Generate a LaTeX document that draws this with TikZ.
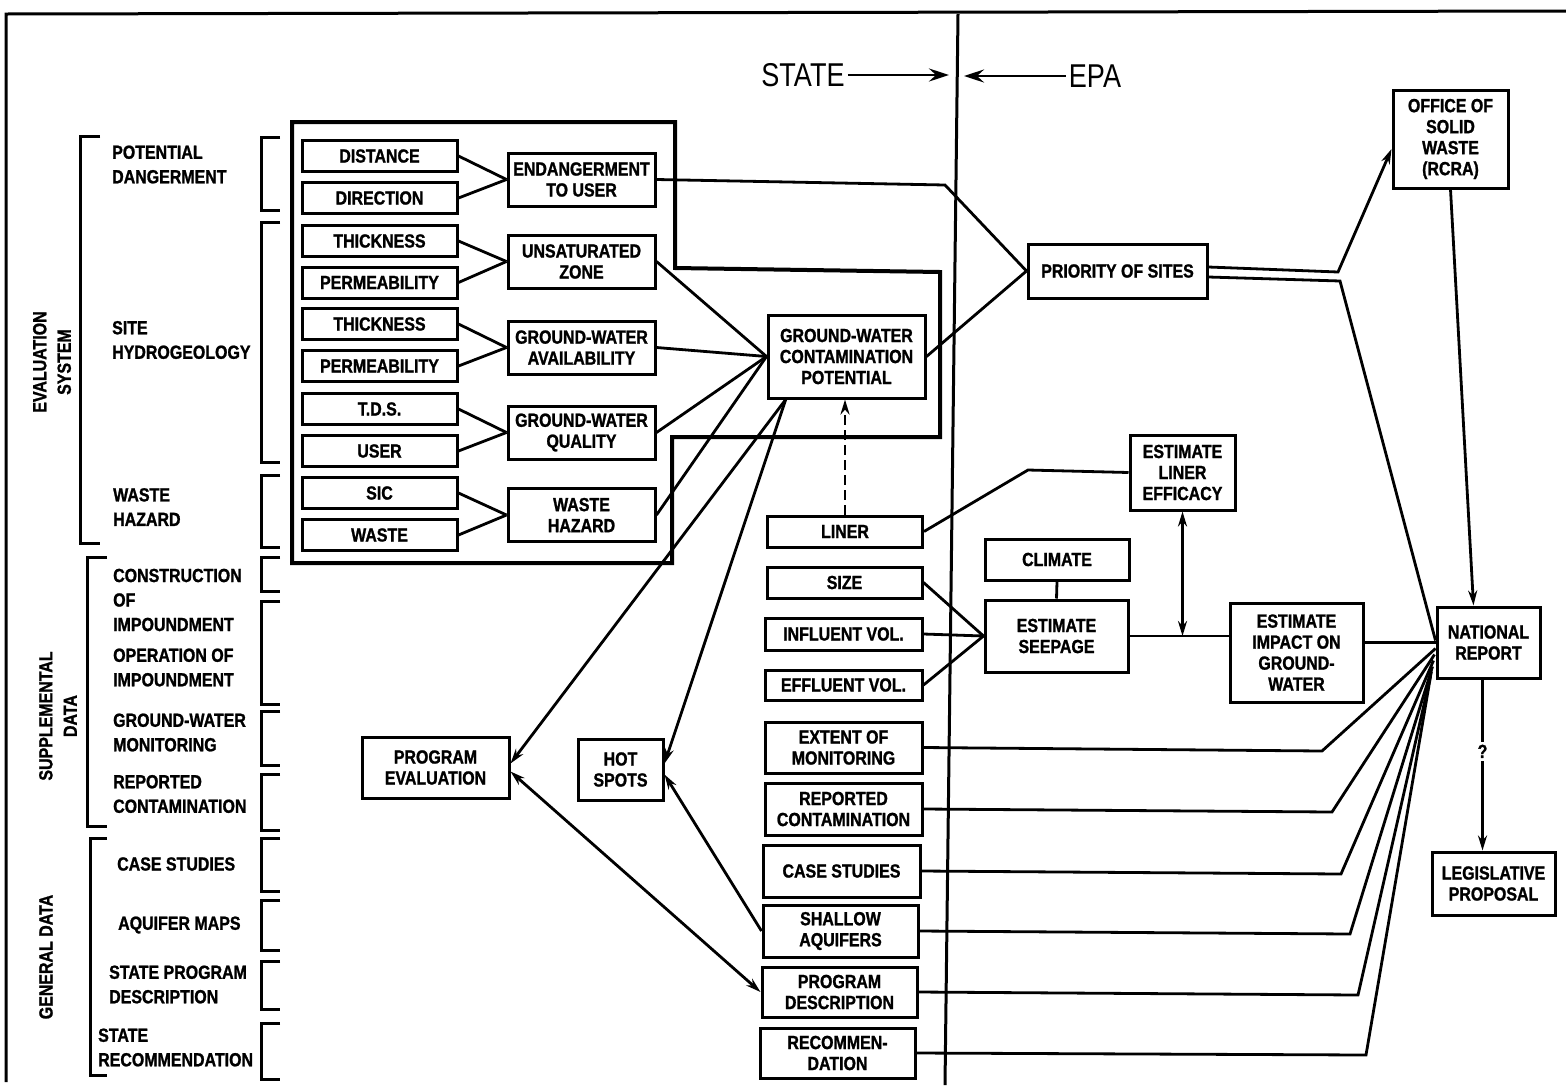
\documentclass[tikz,border=0pt]{standalone}
\usepackage{fontspec}
\newfontfamily\cnd{Liberation Sans}[FakeStretch=0.84, BoldFeatures={FakeBold=1.2}]
\newfontfamily\hdr{Liberation Sans}[FakeStretch=0.82]
\usetikzlibrary{arrows.meta,calc}
\newcommand{\boxfont}{\cnd\bfseries\fontsize{19}{21}\selectfont}
\newcommand{\labfont}{\cnd\bfseries\fontsize{19}{24.5}\selectfont}
\newcommand{\hdrfont}{\hdr\fontsize{33}{36}\selectfont}
\tikzset{
  bx/.style={draw, line width=3pt, inner sep=0pt, align=center, font=\boxfont},
  c1/.style={bx, minimum width=155pt, minimum height=31pt},
  c2/.style={bx, minimum width=147pt, minimum height=53pt},
  lbl/.style={align=left, anchor=west, inner sep=0pt, font=\labfont},
  vlbl/.style={align=center, rotate=90, inner sep=0pt, font=\labfont},
  cn/.style={line width=2.8pt},
  brk/.style={line width=3pt},
  arr/.style={cn, -{Stealth[length=15pt,width=9pt]}},
  darr/.style={cn, {Stealth[length=15pt,width=9pt]}-{Stealth[length=15pt,width=9pt]}},
  harr/.style={line width=2.8pt, -{Stealth[length=20pt,width=13pt,inset=7pt]}}
}
\begin{document}
\begin{tikzpicture}[x=1pt,y=-1pt]
\useasboundingbox (0,0) rectangle (1566,1085);
\fill[white] (0,0) rectangle (1566,1085);

% frame and divider
\draw[line width=3pt] (6,1082) -- (6,14) -- (1566,11);
\coordinate (dtop) at (958,14);
\coordinate (dbot) at (945,1085);
\draw[line width=3pt] (dtop) -- (dbot);

% header
\node[font=\hdrfont, inner sep=3pt] (state) at (803,75) {STATE};
\node[font=\hdrfont, inner sep=3pt] (epa) at (1095,76) {EPA};
\coordinate (sa) at (949,75);
\coordinate (ea) at (964,76);
\draw[harr] (state.east) -- (sa);
\draw[harr] (epa.west) -- (ea);

% left vertical labels and brackets
\node[vlbl] (evs) at (52,362) {EVALUATION\\SYSTEM};
\node[vlbl] (sup) at (58,716) {SUPPLEMENTAL\\DATA};
\node[vlbl] (gen) at (46,957) {GENERAL DATA};
\draw[brk] (100,136) -- (80,136) -- (80,543) -- (100,543);
\draw[brk] (107,557) -- (87,557) -- (87,826) -- (107,826);
\draw[brk] (107,838) -- (90,838) -- (90,1075) -- (107,1075);

% left labels
\node[lbl] (l1) at (112,164.5) {POTENTIAL\\DANGERMENT};
\node[lbl] (l2) at (112,340) {SITE\\HYDROGEOLOGY};
\node[lbl] (l3) at (113,507) {WASTE\\HAZARD};
\node[lbl] (l4) at (113,600) {CONSTRUCTION\\OF\\IMPOUNDMENT};
\node[lbl] (l5) at (113,667.5) {OPERATION OF\\IMPOUNDMENT};
\node[lbl] (l6) at (113,732.5) {GROUND-WATER\\MONITORING};
\node[lbl] (l7) at (113,794) {REPORTED\\CONTAMINATION};
\node[lbl] (l8) at (117,864) {CASE STUDIES};
\node[lbl] (l9) at (118,925) {AQUIFER MAPS};
\node[lbl] (l10) at (109,984.5) {STATE PROGRAM\\DESCRIPTION};
\node[lbl] (l11) at (98,1047.5) {STATE\\RECOMMENDATION};

% small brackets
\foreach \a/\b in {137/210,222/462,475/547,557/591,601/704,711/765,774/830,838/891,900/950,961/1009,1023/1079}
  \draw[brk] (280,\a) -- (261,\a) -- (261,\b) -- (280,\b);

% enclosure
\draw[line width=4pt] (292,122) -- (675,122) -- (675,268) -- (940,272) -- (940,437) -- (672,437) -- (672,563) -- (292,563) -- cycle;

% column 1
\node[c1] (dist) at (379.5,156) {DISTANCE};
\node[c1] (dir) at (379.5,198) {DIRECTION};
\node[c1] (thk1) at (379.5,241) {THICKNESS};
\node[c1] (perm1) at (379.5,282.5) {PERMEABILITY};
\node[c1] (thk2) at (379.5,324) {THICKNESS};
\node[c1] (perm2) at (379.5,366) {PERMEABILITY};
\node[c1] (tds) at (379.5,409) {T.D.S.};
\node[c1] (user) at (379.5,451) {USER};
\node[c1] (sic) at (379.5,493) {SIC};
\node[c1] (waste) at (379.5,535) {WASTE};

% column 2
\node[c2] (endg) at (581.5,179.5) {ENDANGERMENT\\TO USER};
\node[c2] (unsat) at (581.5,261.5) {UNSATURATED\\ZONE};
\node[c2] (gwa) at (581.5,347.5) {GROUND-WATER\\AVAILABILITY};
\node[c2] (gwq) at (581.5,432.5) {GROUND-WATER\\QUALITY};
\node[c2] (wh) at (581.5,515) {WASTE\\HAZARD};

\foreach \s/\t in {dist/endg,dir/endg,thk1/unsat,perm1/unsat,thk2/gwa,perm2/gwa,tds/gwq,user/gwq,sic/wh,waste/wh}
  \draw[cn] (\s.east) -- (\t.west);

% central boxes
\node[bx, minimum width=157pt, minimum height=83pt] (gwcp) at (846.5,356.5) {GROUND-WATER\\CONTAMINATION\\POTENTIAL};
\node[bx, minimum width=179pt, minimum height=54pt] (prio) at (1117.5,271) {PRIORITY OF SITES};
\node[bx, minimum width=115pt, minimum height=98pt] (office) at (1450.5,139) {OFFICE OF\\SOLID\\WASTE\\(RCRA)};
\node[bx, minimum width=105pt, minimum height=75pt] (lineff) at (1182.5,472.5) {ESTIMATE\\LINER\\EFFICACY};
\node[c1] (liner) at (845,531.5) {LINER};
\node[c1] (size) at (844.5,582.5) {SIZE};
\node[bx, minimum width=157pt, minimum height=32pt] (infl) at (843.5,634) {INFLUENT VOL.};
\node[bx, minimum width=157pt, minimum height=30pt] (effl) at (843.5,685) {EFFLUENT VOL.};
\node[bx, minimum width=144pt, minimum height=41pt] (climate) at (1057,559.5) {CLIMATE};
\node[bx, minimum width=143pt, minimum height=72pt] (seep) at (1056.5,636) {ESTIMATE\\SEEPAGE};
\node[bx, minimum width=133pt, minimum height=99pt] (impact) at (1296.5,652.5) {ESTIMATE\\IMPACT ON\\GROUND-\\WATER};
\node[bx, minimum width=103pt, minimum height=71pt] (natl) at (1488.5,642.5) {NATIONAL\\REPORT};
\node[bx, minimum width=123pt, minimum height=63pt] (legis) at (1493.5,883.5) {LEGISLATIVE\\PROPOSAL};

% lower boxes
\node[bx, minimum width=147pt, minimum height=61pt] (progeval) at (435.5,767.5) {PROGRAM\\EVALUATION};
\node[bx, minimum width=85pt, minimum height=61pt] (hot) at (620.5,769.5) {HOT\\SPOTS};
\node[bx, minimum width=157pt, minimum height=51pt] (extent) at (843.5,747.5) {EXTENT OF\\MONITORING};
\node[bx, minimum width=157pt, minimum height=52pt] (reported) at (843.5,809) {REPORTED\\CONTAMINATION};
\node[bx, minimum width=157pt, minimum height=52pt] (case) at (841.5,871) {CASE STUDIES};
\node[bx, minimum width=155pt, minimum height=52pt] (shallow) at (840.5,931) {SHALLOW\\AQUIFERS};
\node[bx, minimum width=155pt, minimum height=50pt] (progdesc) at (839.5,992) {PROGRAM\\DESCRIPTION};
\node[bx, minimum width=155pt, minimum height=50pt] (recomm) at (837.5,1053) {RECOMMEN-\\DATION};

% column 2 -> GWCP
\foreach \s in {unsat,gwa,gwq,wh}
  \draw[cn] (\s.east) -- (gwcp.west);

% endangerment -> priority
\coordinate (eb) at (945,185);
\draw[cn] (endg.east) -- (eb) -- (prio.west);
\draw[cn] (gwcp.east) -- (prio.west);

% priority -> office / national
\coordinate (pu) at (1338,272);
\coordinate (pd) at (1340,281);
\draw[arr] ([yshift=4pt]prio.east) -- (pu) -- ([yshift=-10pt]office.west);
\draw[cn] ([yshift=-6pt]prio.east) -- (pd) -- ([yshift=2pt]natl.west);
\draw[arr] (office.south) -- ([xshift=-15pt]natl.north);

% liner
\coordinate (lb) at (1028,470);
\draw[cn] (liner.east) -- (lb) -- (lineff.west);
\draw[cn, dash pattern=on 10pt off 5pt, -{Stealth[length=15pt,width=9pt]}] (liner.north) -- (liner.north |- gwcp.south);

% seepage
\foreach \s in {size,infl,effl}
  \draw[cn] (\s.east) -- (seep.west);
\draw[cn] (climate.south) -- (seep.north);
\draw[cn] (seep.east) -- (seep.east -| impact.west);
\draw[darr] (lineff.south) -- (lineff.south |- seep.east);
\draw[cn] (natl.west -| impact.east) -- (natl.west);

% GWCP -> program evaluation / hot spots
\coordinate (gs) at ($(gwcp.south west)!0.12!(gwcp.south east)$);
\draw[arr] (gs) -- ([yshift=4pt]progeval.east);
\draw[arr] (gs) -- ([yshift=6pt]hot.east);
\draw[arr] (shallow.west) -- ([yshift=-5pt]hot.east);
\draw[darr] ([yshift=-4pt]progeval.east) -- (progdesc.west);

% fan to national report
\coordinate (b1) at (1322,751);
\coordinate (b2) at (1332,812);
\coordinate (b3) at (1341,874);
\coordinate (b4) at (1350,934);
\coordinate (b5) at (1358,995);
\coordinate (b6) at (1366,1055);
\draw[cn] (extent.east) -- (b1) -- ([yshift=-6pt]natl.west);
\draw[cn] (reported.east) -- (b2) -- ([shift={(-1pt,-12pt)}]natl.west);
\draw[cn] (case.east) -- (b3) -- ([shift={(-2pt,-18pt)}]natl.west);
\draw[cn] (shallow.east) -- (b4) -- ([shift={(-3pt,-24pt)}]natl.west);
\draw[cn] (progdesc.east) -- (b5) -- ([shift={(-4pt,-29pt)}]natl.west);
\draw[cn] (recomm.east) -- (b6) -- ([shift={(-5pt,-34pt)}]natl.west);

% national -> legislative
\draw[arr] ([xshift=-6pt]natl.south) -- node[pos=0.42, fill=white, inner sep=3pt, font=\boxfont] (qm) {?} ([xshift=-11pt]legis.north);
\end{tikzpicture}
\end{document}
